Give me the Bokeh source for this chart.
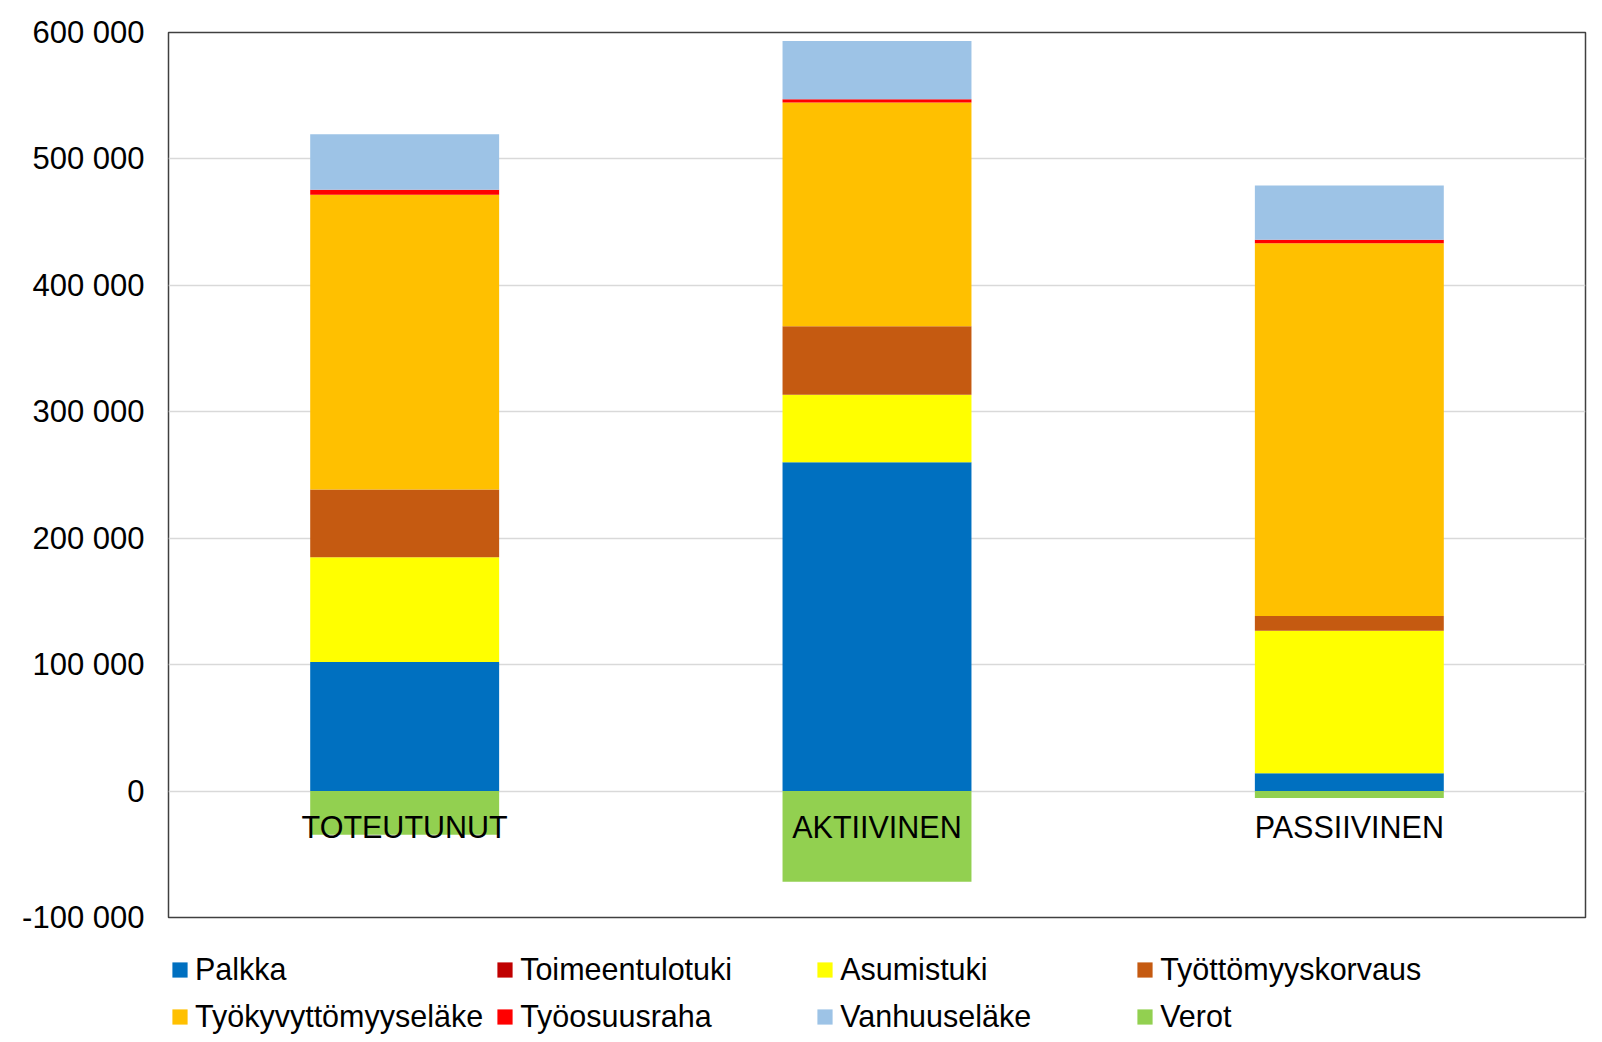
from bokeh.plotting import figure
from bokeh.models import FactorRange, Range1d, FixedTicker, Legend, LegendItem, ColumnDataSource
from bokeh.core.properties import value
from bokeh.embed import file_html
from bokeh.resources import INLINE

categories = ["TOTEUTUNUT", "AKTIIVINEN", "PASSIIVINEN"]

palkka = [102000, 260000, 14000]
toimeentulotuki = [0, 0, 0]
asumistuki = [83000, 53500, 112800]
tyottomyyskorvaus = [53600, 54200, 11600]
tyokyvyttomyyselake = [233000, 177000, 295000]
tyoosuusraha = [4000, 2500, 2600]
vanhuuselake = [44000, 46000, 43000]
verot = [-34600, -71800, -5500]

series_names = ["Palkka", "Toimeentulotuki", "Asumistuki", "Työttömyyskorvaus",
                "Työkyvyttömyyseläke", "Työosuusraha", "Vanhuuseläke"]
series_keys = ["palkka", "toimeentulotuki", "asumistuki", "tyottomyyskorvaus",
               "tyokyvyttomyyselake", "tyoosuusraha", "vanhuuselake"]
colors = ["#0070C0", "#C00000", "#FFFF00", "#C55A11", "#FFC000", "#FF0000", "#9DC3E6"]
verot_color = "#92D050"

y_ticks = [-100000, 0, 100000, 200000, 300000, 400000, 500000, 600000]

FONT = "Liberation Sans"

src = ColumnDataSource(dict(
    cat=categories, palkka=palkka, toimeentulotuki=toimeentulotuki, asumistuki=asumistuki,
    tyottomyyskorvaus=tyottomyyskorvaus, tyokyvyttomyyselake=tyokyvyttomyyselake,
    tyoosuusraha=tyoosuusraha, vanhuuselake=vanhuuselake, verot=verot,
    zero=[0] * len(categories),
))

p = figure(x_range=FactorRange(*categories, range_padding=0),
           y_range=Range1d(-100000, 600000),
           frame_width=1417, frame_height=885, output_backend="svg", toolbar_location=None,
           x_axis_location=None, title=None,
           min_border_left=168, min_border_right=9, min_border_top=32, min_border_bottom=0)

p.xgrid.grid_line_color = None
p.ygrid.grid_line_color = "#d9d9d9"
p.ygrid.grid_line_width = 1.5
p.outline_line_color = "#404040"
p.outline_line_width = 1.5
p.background_fill_color = "white"
p.border_fill_color = "white"

p.yaxis.ticker = FixedTicker(ticks=y_ticks)
p.yaxis.major_label_overrides = {t: f"{t:,}".replace(",", " ") for t in y_ticks}
p.yaxis.axis_line_color = None
p.yaxis.major_tick_line_color = None
p.yaxis.minor_tick_line_color = None
p.yaxis.major_label_standoff = 18
p.yaxis.major_label_text_font = FONT
p.yaxis.major_label_text_font_size = "31px"
p.yaxis.major_label_text_color = "#000000"

renderers = p.vbar_stack(series_keys, x="cat", width=0.4, color=colors, line_color=None, source=src)
verot_r = p.vbar(x="cat", top="verot", bottom="zero", width=0.4, color=verot_color, line_color=None, source=src)

p.text(x="cat", y="zero", text="cat", source=src, text_font=value(FONT), text_font_size="30.5px",
       text_color="#000000", text_align="center", text_baseline="middle", y_offset=36)

items = [LegendItem(label=n, renderers=[r]) for n, r in zip(series_names, renderers)]
items.append(LegendItem(label="Verot", renderers=[verot_r]))

legend = Legend(items=items, orientation="horizontal", ncols=4, location="top_left",
                title=" ", title_text_font_size="2px", title_standoff=31,
                label_text_font=FONT, label_text_font_size="30.5px", label_text_color="#000000",
                glyph_width=19, glyph_height=19, label_standoff=6, label_width=283, label_height=30,
                spacing=12, padding=0, margin=2, border_line_color=None, background_fill_alpha=0)
p.add_layout(legend, "below")

open("out.html", "w").write(file_html(p, INLINE))
